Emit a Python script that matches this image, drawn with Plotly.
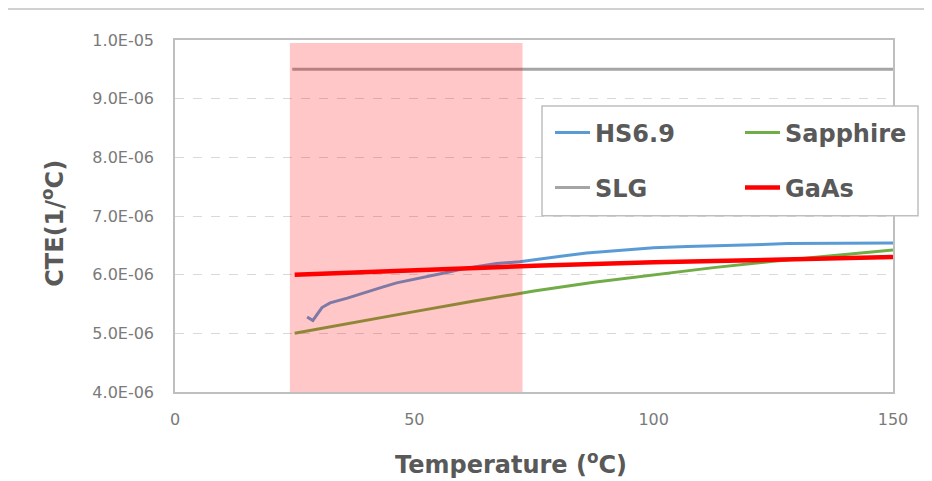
import plotly.graph_objects as go

# ---------------- data ----------------
hs_x = [27.6, 28.8, 30.7, 32.4, 36.0, 39.3, 43.0, 46.3, 50.0, 53.3, 57.0, 60.2, 64.0, 67.2, 72.0,
        76.2, 81.0, 86.0, 93.0, 100.0, 107.0, 114.0, 121.0, 128.0, 135.0, 142.0, 150.0]
hs_y = [5.28e-6, 5.22e-6, 5.44e-6, 5.52e-6, 5.60e-6, 5.69e-6, 5.78e-6, 5.86e-6, 5.92e-6, 5.98e-6,
        6.04e-6, 6.10e-6, 6.15e-6, 6.19e-6, 6.22e-6, 6.27e-6, 6.32e-6, 6.37e-6, 6.42e-6, 6.46e-6,
        6.48e-6, 6.49e-6, 6.51e-6, 6.53e-6, 6.53e-6, 6.54e-6, 6.54e-6]

sap_x = [25, 37.5, 50, 62.5, 75, 87.5, 100, 112.5, 125, 137.5, 150]
sap_y = [5.00e-6, 5.19e-6, 5.37e-6, 5.55e-6, 5.72e-6, 5.87e-6, 6.00e-6, 6.12e-6, 6.23e-6, 6.33e-6, 6.42e-6]

slg_x = [24.5, 50, 75, 100, 125, 150]
slg_y = [9.5e-6, 9.5e-6, 9.5e-6, 9.5e-6, 9.5e-6, 9.5e-6]

gaas_x = [25, 50, 75, 100, 125, 150]
gaas_y = [6.00e-6, 6.08e-6, 6.15e-6, 6.21e-6, 6.26e-6, 6.30e-6]

shade_range = [24.0, 72.6]
shade_top = 9.95e-6

y_tickvals = [4e-6, 5e-6, 6e-6, 7e-6, 8e-6, 9e-6, 1e-5]
y_ticktext = ["4.0E-06", "5.0E-06", "6.0E-06", "7.0E-06", "8.0E-06", "9.0E-06", "1.0E-05"]
x_tickvals = [0, 50, 100, 150]

# ---------------- figure geometry ----------------
OFF = 8                      # page body margin
W, H = 932 - OFF, 481 - OFF
PL, PR, PT, PB = 175, 893, 40, 392.5   # plot area in page pixels
ML, MT = PL - OFF, PT - OFF
MR, MB = W - (PR - OFF), H - (PB - OFF)
PW, PH = PR - PL, PB - PT


def px_x(p):
    return (p - PL) / PW


def px_y(p):
    return (PB - p) / PH


fig = go.Figure()
fig.add_trace(go.Scatter(x=hs_x, y=hs_y, mode="lines", name="HS6.9",
                         line=dict(color="#5B9BD5", width=3), legend="legend"))
fig.add_trace(go.Scatter(x=sap_x, y=sap_y, mode="lines", name="Sapphire",
                         line=dict(color="#70AD47", width=3), legend="legend2"))
fig.add_trace(go.Scatter(x=slg_x, y=slg_y, mode="lines", name="SLG",
                         line=dict(color="#A5A5A5", width=3), legend="legend3"))
fig.add_trace(go.Scatter(x=gaas_x, y=gaas_y, mode="lines", name="GaAs",
                         line=dict(color="#FF0000", width=4.5), legend="legend4"))

# shaded region (semi-transparent, above the lines)
fig.add_shape(type="rect", xref="x", yref="y", x0=shade_range[0], x1=shade_range[1],
              y0=4e-6, y1=shade_top, fillcolor="rgba(255,0,0,0.22)", line_width=0,
              layer="above")

# legend box
fig.add_shape(type="rect", xref="paper", yref="paper",
              x0=px_x(542), x1=px_x(918), y0=px_y(216), y1=px_y(106),
              fillcolor="white", line=dict(color="#BFBFBF", width=1.5), layer="above")

# top separator line (slide header)
fig.add_shape(type="line", xref="paper", yref="paper",
              x0=px_x(OFF), x1=px_x(932), y0=px_y(9), y1=px_y(9),
              line=dict(color="#D0D0D0", width=2), layer="above")

leg_font = dict(family="DejaVu Sans", size=24, color="#595959", weight="bold")
leg_common = dict(xanchor="left", yanchor="middle", bgcolor="rgba(0,0,0,0)",
                  borderwidth=0, font=leg_font, itemwidth=35)

title_font = dict(family="DejaVu Sans", size=24, color="#595959", weight="bold")

fig.update_layout(
    width=W, height=H,
    margin=dict(l=ML, r=MR, t=MT, b=MB, pad=0, autoexpand=False),
    paper_bgcolor="white", plot_bgcolor="white",
    showlegend=True,
    legend=dict(x=px_x(550), y=px_y(133), **leg_common),
    legend2=dict(x=px_x(740), y=px_y(133), **leg_common),
    legend3=dict(x=px_x(550), y=px_y(188), **leg_common),
    legend4=dict(x=px_x(740), y=px_y(188), **leg_common),
    xaxis=dict(range=[0, 150], tickvals=x_tickvals, showgrid=False, zeroline=False,
               showline=True, mirror=True, linecolor="#BFBFBF", linewidth=1.5,
               ticks="", ticklabelstandoff=12, automargin=False,
               tickfont=dict(family="DejaVu Sans", size=16, color="#7A7A7A")),
    yaxis=dict(range=[4e-6, 1e-5], tickvals=y_tickvals, ticktext=y_ticktext,
               showgrid=True, gridcolor="#D9D9D9", griddash="dash", gridwidth=1,
               zeroline=False, showline=True, mirror=True, linecolor="#BFBFBF",
               linewidth=1.5, ticks="", ticklabelstandoff=16, automargin=False,
               tickfont=dict(family="DejaVu Sans", size=16, color="#7A7A7A")),
    annotations=[
        dict(text="Temperature (<sup>o</sup>C)", xref="paper", yref="paper",
             x=px_x(511), y=px_y(464), xanchor="center", yanchor="middle",
             showarrow=False, font=title_font),
        dict(text="CTE(1/<sup>o</sup>C)", xref="paper", yref="paper",
             x=px_x(53), y=px_y(224), xanchor="center", yanchor="middle",
             textangle=-90, showarrow=False, font=title_font),
    ],
)

fig.write_html("out.html")
